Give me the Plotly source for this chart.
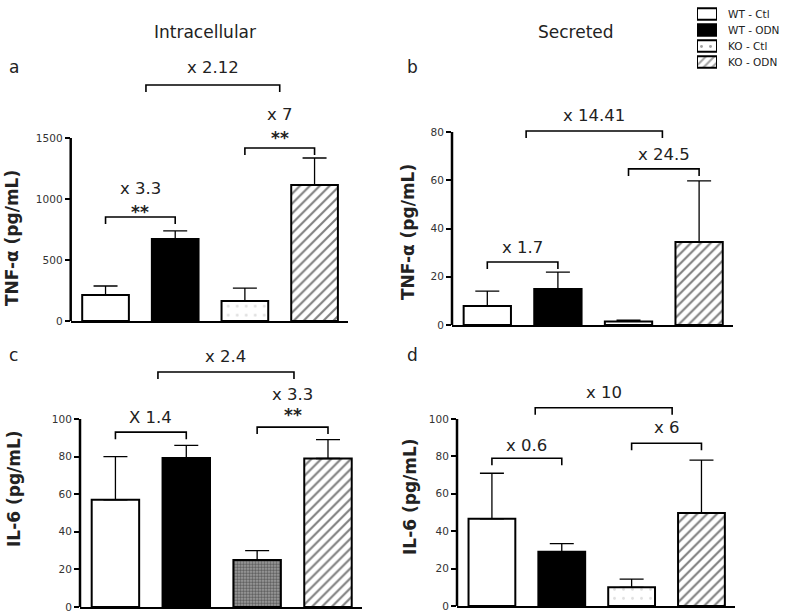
import plotly.graph_objects as go

W, H = 787, 614
FONT = "DejaVu Sans, Liberation Sans, Arial, sans-serif"


def fx(px):
    return px / W


def fy(py):
    return 1 - py / H


groups = ["WT - Ctl", "WT - ODN", "KO - Ctl", "KO - ODN"]

# ---- data ----
tnf_intra = [213, 672, 164, 1115]
tnf_intra_err = [74, 66, 106, 221]
tnf_sec = [7.9, 14.9, 1.5, 34.4]
tnf_sec_err = [6.1, 7.0, 0.5, 25.3]
il6_intra = [57, 79.3, 25, 79]
il6_intra_err = [23, 6.7, 5, 10]
il6_sec = [46.6, 29, 10, 49.7]
il6_sec_err = [24.4, 4.4, 4.4, 28.3]

# fold-change brackets: start group, end group, height, label
a_br_x0 = [0, 2, 0.58]
a_br_x1 = [1, 3, 2.5]
a_br_y = [853, 1418, 1935]
a_labels = ["x 3.3", "x 7", "x 2.12"]
a_label_y = [1090, 1689, 2074]
a_stars_y = [926, 1533, None]

b_br_x0 = [0, 2, 0.55]
b_br_x1 = [1, 3, 2.48]
b_br_y = [26.1, 64.7, 80.4]
b_labels = ["x 1.7", "x 24.5", "x 14.41"]
b_label_y = [32.3, 70.5, 87]
b_stars_y = [None, None, None]

c_br_x0 = [0, 2, 0.6]
c_br_x1 = [1, 3, 2.52]
c_br_y = [93, 95.7, 125]
c_labels = ["X 1.4", "x 3.3", "x 2.4"]
c_label_y = [101, 113, 133]
c_stars_y = [None, 104, None]

d_br_x0 = [0, 2, 0.62]
d_br_x1 = [1, 3, 2.58]
d_br_y = [79, 87, 106]
d_labels = ["x 0.6", "x 6", "x 10"]
d_label_y = [86, 95.7, 114]
d_stars_y = [None, None, None]

a_ticks = [0, 500, 1000, 1500]
b_ticks = [0, 20, 40, 60, 80]
c_ticks = [0, 20, 40, 60, 80, 100]
d_ticks = [0, 20, 40, 60, 80, 100]

titles = ["Intracellular", "Secreted"]
panel_letters = ["a", "b", "c", "d"]
ytitles = ["TNF-α (pg/mL)", "TNF-α (pg/mL)", "IL-6 (pg/mL)", "IL-6 (pg/mL)"]

# ---- layout geometry (pixels) ----
panels = [
    dict(vals=tnf_intra, errs=tnf_intra_err, bx0=a_br_x0, bx1=a_br_x1, by=a_br_y,
         lab=a_labels, laby=a_label_y, stars=a_stars_y, ticks=a_ticks,
         xpx=(70.7, 348), ybot=321, scale=183 / 1500, ymax=2150,
         letter=(14, 67), ytitle=(12, 238)),
    dict(vals=tnf_sec, errs=tnf_sec_err, bx0=b_br_x0, bx1=b_br_x1, by=b_br_y,
         lab=b_labels, laby=b_label_y, stars=b_stars_y, ticks=b_ticks,
         xpx=(452, 733), ybot=325, scale=193 / 80, ymax=95,
         letter=(412, 67), ytitle=(408, 232)),
    dict(vals=il6_intra, errs=il6_intra_err, bx0=c_br_x0, bx1=c_br_x1, by=c_br_y,
         lab=c_labels, laby=c_label_y, stars=c_stars_y, ticks=c_ticks,
         xpx=(80, 362), ybot=607, scale=188 / 100, ymax=140,
         letter=(13, 355), ytitle=(14, 489)),
    dict(vals=il6_sec, errs=il6_sec_err, bx0=d_br_x0, bx1=d_br_x1, by=d_br_y,
         lab=d_labels, laby=d_label_y, stars=d_stars_y, ticks=d_ticks,
         xpx=(457, 735), ybot=606, scale=187 / 100, ymax=122,
         letter=(412, 355), ytitle=(410, 497)),
]


def fill_style(g, panel):
    if g == 0:
        return dict(color="white")
    if g == 1:
        return dict(color="black")
    if g == 2:
        if panel == 2:
            return dict(color="#999999", pattern=dict(shape=".", fgcolor="#111111",
                                                      bgcolor="#a8a8a8", size=3, solidity=0.6))
        return dict(color="white", pattern=dict(shape=".", fgcolor="#c0c0c0",
                                                bgcolor="white", size=9, solidity=0.08))
    return dict(color="white", pattern=dict(shape="/", fgcolor="black",
                                            bgcolor="white", size=7, solidity=0.3))


fig = go.Figure()
layout = dict(
    width=W, height=H, margin=dict(l=0, r=0, t=0, b=0, autoexpand=False),
    paper_bgcolor="white", plot_bgcolor="white",
    barmode="overlay", font=dict(family=FONT, color="#222"),
    showlegend=False, hovermode=False,
)
shapes = []
annotations = []

for p, P in enumerate(panels):
    n = "" if p == 0 else str(p + 1)
    xa, ya = "x" + n, "y" + n
    x0px, x1px = P["xpx"]
    ytop_px = P["ybot"] - P["ymax"] * P["scale"]
    layout["xaxis" + n] = dict(
        domain=[fx(x0px), fx(x1px)], range=[-0.5, 3.48], anchor=ya,
        showline=True, linecolor="black", linewidth=2, showticklabels=False,
        ticks="", showgrid=False, zeroline=False, fixedrange=True)
    layout["yaxis" + n] = dict(
        domain=[fy(P["ybot"]), fy(ytop_px)], range=[0, P["ymax"]], anchor=xa,
        showline=False, tickvals=P["ticks"], ticks="outside", ticklen=5, tickwidth=2,
        tickcolor="black", tickfont=dict(size=10.5, family=FONT, color="#333"),
        showgrid=False, zeroline=False, fixedrange=True)

    for g in range(4):
        fig.add_trace(go.Bar(
            x=[g], y=[P["vals"][g]], width=[0.67], name=groups[g],
            xaxis=xa, yaxis=ya,
            marker=dict(line=dict(color="black", width=2), **fill_style(g, p)),
            error_y=dict(type="data", array=[P["errs"][g]], arrayminus=[0],
                         symmetric=False, color="black", thickness=1.3, width=12),
        ))

    # y axis line up to the top tick
    shapes.append(dict(type="line", xref=xa + " domain", yref=ya, x0=0, x1=0,
                       y0=0, y1=P["ticks"][-1], line=dict(color="black", width=2.5)))

    leg = 7 / P["scale"]
    for k in range(len(P["by"])):
        bx0, bx1, by = P["bx0"][k], P["bx1"][k], P["by"][k]
        shapes.append(dict(type="path", xref=xa, yref=ya,
                           path=f"M{bx0},{by - leg} L{bx0},{by} L{bx1},{by} L{bx1},{by - leg}",
                           line=dict(color="black", width=1.6)))
        annotations.append(dict(xref=xa, yref=ya, x=(bx0 + bx1) / 2, y=P["laby"][k],
                                xanchor="center", yanchor="middle",
                                text=P["lab"][k], showarrow=False,
                                font=dict(size=16.5, family=FONT, color="#222")))
        if P["stars"][k] is not None:
            annotations.append(dict(xref=xa, yref=ya, x=(bx0 + bx1) / 2, y=P["stars"][k],
                                    xanchor="center", yanchor="middle", yshift=-4,
                                    text="<b>**</b>", showarrow=False,
                                    font=dict(size=17, family=FONT, color="#222")))

    lx, ly = P["letter"]
    annotations.append(dict(xref="paper", yref="paper", x=fx(lx), y=fy(ly),
                            xanchor="center", yanchor="middle",
                            text=panel_letters[p], showarrow=False,
                            font=dict(size=17, family=FONT, color="#222")))
    tx, ty = P["ytitle"]
    annotations.append(dict(xref="paper", yref="paper", x=fx(tx), y=fy(ty),
                            xanchor="center", yanchor="middle",
                            text="<b>" + ytitles[p] + "</b>", textangle=-90, showarrow=False,
                            font=dict(size=17, family=FONT, color="#222")))

for t, cx in zip(titles, [205, 576]):
    annotations.append(dict(xref="paper", yref="paper", x=fx(cx), y=fy(32),
                            xanchor="center", yanchor="middle",
                            text=t, showarrow=False,
                            font=dict(size=17, family=FONT, color="#222")))

# ---- legend: swatches drawn as bars on a small hidden axis ----
leg_rows = [0, 1, 2, 3]
fig.add_trace(go.Bar(
    x=[1, 1, 1, 1], y=leg_rows, orientation="h", width=[0.72] * 4,
    xaxis="x5", yaxis="y5", cliponaxis=False,
    marker=dict(color=["white", "black", "white", "white"],
                line=dict(color="black", width=2),
                pattern=dict(shape=["", "", ".", "/"], fgcolor=["black", "black", "#c0c0c0", "black"],
                             bgcolor=["white", "black", "white", "white"],
                             size=[8, 8, 9, 6], solidity=[0.2, 0.2, 0.08, 0.35])),
))
layout["xaxis5"] = dict(domain=[fx(697), fx(717)], range=[0, 1], anchor="y5",
                        visible=False, fixedrange=True)
layout["yaxis5"] = dict(domain=[fy(70), fy(6)], range=[3.5, -0.5], anchor="x5",
                        visible=False, fixedrange=True)
for r, name in zip(leg_rows, groups):
    annotations.append(dict(xref="paper", yref="y5", x=fx(726), y=r,
                            xanchor="left", yanchor="middle", text=name, showarrow=False,
                            font=dict(size=10.5, family=FONT, color="#222")))

layout["shapes"] = shapes
layout["annotations"] = annotations
fig.update_layout(**layout)
# remove the browser's default 8px page margin so the figure sits at the window's corner
fig.write_html("out.html", config={"displayModeBar": False, "staticPlot": True},
               post_script="document.body.style.margin='0px';")
